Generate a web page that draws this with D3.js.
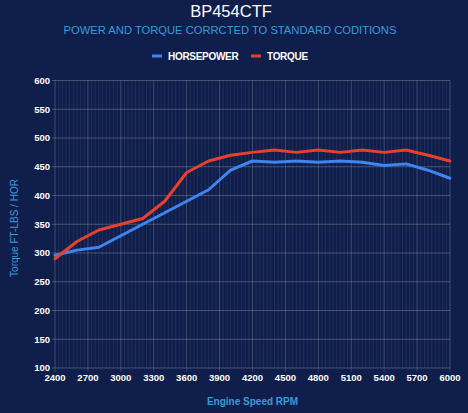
<!DOCTYPE html>
<html><head><meta charset="utf-8">
<script src="https://cdn.jsdelivr.net/npm/d3@7"></script>
<style>
html,body{margin:0;padding:0;background:#101e4c;}
svg{display:block;font-family:"Liberation Sans",Arial,sans-serif;}
</style></head>
<body>
<script>
const rpm = [2400,2600,2800,3000,3200,3400,3600,3800,4000,4200,4400,4600,4800,5000,5200,5400,5600,5800,6000];
const horsepower = [296,305,310,330,350,370,390,410,444,460,458,460,458,460,458,452,455,444,430];
const torque = [290,320,340,350,360,390,440,460,470,475,479,475,479,475,479,475,479,470,460];
const xTicks = [2400,2700,3000,3300,3600,3900,4200,4500,4800,5100,5400,5700,6000];
const yTicks = [100,150,200,250,300,350,400,450,500,550,600];
const seriesNames = ["HORSEPOWER","TORQUE"];
const colors = ["#3d85f0","#e8402f"];

const W = 468, H = 413;
const svg = d3.select("body").append("svg").attr("width", W).attr("height", H);
svg.append("rect").attr("width", W).attr("height", H).attr("fill", "#101e4c");

const x = d3.scaleLinear().domain([2400, 6000]).range([55, 450]);
const y = d3.scaleLinear().domain([100, 600]).range([368, 80.5]);

// minor vertical grid
const minor = d3.range(2400, 6000.1, 300/9);
svg.append("g").selectAll("line").data(minor).join("line")
  .attr("x1", d => x(d)).attr("x2", d => x(d))
  .attr("y1", y(600)).attr("y2", y(100))
  .attr("stroke", "rgba(255,255,255,0.07)").attr("stroke-width", 1);
// major vertical grid
svg.append("g").selectAll("line").data(xTicks).join("line")
  .attr("x1", d => x(d)).attr("x2", d => x(d))
  .attr("y1", y(600)).attr("y2", y(100)+4)
  .attr("stroke", "rgba(255,255,255,0.14)").attr("stroke-width", 1);
// horizontal grid
svg.append("g").selectAll("line").data(yTicks).join("line")
  .attr("x1", x(2400)-3).attr("x2", x(6000))
  .attr("y1", d => y(d)).attr("y2", d => y(d))
  .attr("stroke", "rgba(255,255,255,0.22)").attr("stroke-width", 1);

// y tick labels
svg.append("g").selectAll("text").data(yTicks).join("text")
  .attr("x", 50).attr("y", d => y(d)).attr("dy", "0.35em")
  .attr("text-anchor", "end").attr("fill", "#ffffff")
  .attr("font-size", "9.5px").attr("font-weight", "bold")
  .text(d => d);
// x tick labels
svg.append("g").selectAll("text").data(xTicks).join("text")
  .attr("x", d => x(d)).attr("y", 381)
  .attr("text-anchor", "middle").attr("fill", "#ffffff")
  .attr("font-size", "9.5px").attr("font-weight", "bold")
  .text(d => d);

// lines
const line = d3.line().x((d,i) => x(rpm[i])).y(d => y(d));
[horsepower, torque].forEach((s, k) => {
  svg.append("path").datum(s).attr("d", line)
    .attr("fill", "none").attr("stroke", colors[k])
    .attr("stroke-width", 3).attr("stroke-linejoin", "round").attr("stroke-linecap", "round");
});

// titles
svg.append("text").attr("x", 231).attr("y", 17).attr("text-anchor", "middle")
  .attr("fill", "#ffffff").attr("font-size", "16.5px").text("BP454CTF");
svg.append("text").attr("x", 230).attr("y", 34).attr("text-anchor", "middle")
  .attr("fill", "#3a9ad9").attr("font-size", "11.2px").text("POWER AND TORQUE CORRCTED TO STANDARD CODITIONS");

// legend
const legX = [152, 251];
seriesNames.forEach((n, k) => {
  svg.append("rect").attr("x", legX[k]).attr("y", 54.5).attr("width", 10).attr("height", 3).attr("fill", colors[k]);
  svg.append("text").attr("x", legX[k] + 16).attr("y", 56).attr("dy", "0.35em")
    .attr("fill", "#ffffff").attr("font-size", "10px").attr("font-weight", "bold")
    .attr("letter-spacing", "-0.3px").text(n);
});

// axis titles
svg.append("text").attr("x", 252.5).attr("y", 405).attr("text-anchor", "middle")
  .attr("fill", "#3a9ad9").attr("font-size", "10px").attr("font-weight", "bold").text("Engine Speed RPM");
svg.append("text").attr("transform", "translate(18,228) rotate(-90)").attr("text-anchor", "middle")
  .attr("fill", "#3a9ad9").attr("font-size", "10px").text("Torque FT-LBS / HOR");
</script>
</body></html>
